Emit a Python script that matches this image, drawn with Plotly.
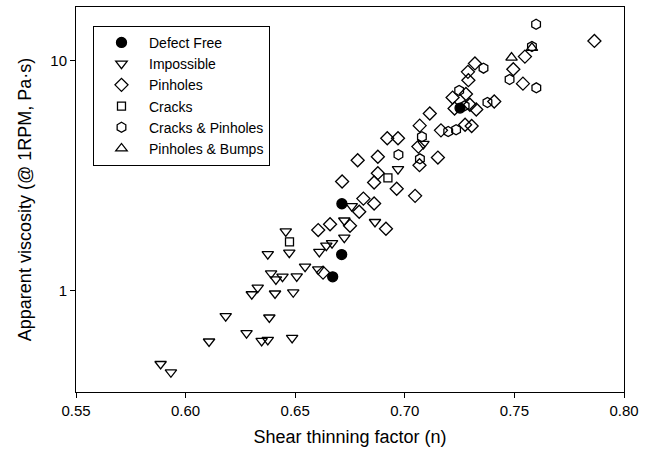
import plotly.graph_objects as go

# ---- data ----
defect_free_n = [0.6671, 0.6712, 0.6713, 0.7252]
defect_free_v = [1.145, 1.431, 2.384, 6.23]

impossible_n = [0.5886, 0.5933, 0.6107, 0.6183, 0.6278, 0.6347, 0.6375, 0.6486,
                0.6382, 0.6302, 0.6329, 0.6408, 0.6491, 0.6390, 0.6412, 0.6442,
                0.6507, 0.6545, 0.6375, 0.6473, 0.6457, 0.6610, 0.6605, 0.6642,
                0.6668, 0.6724, 0.6724, 0.6758, 0.6864, 0.6969, 0.7085]
impossible_v = [0.477, 0.439, 0.598, 0.771, 0.650, 0.602, 0.608, 0.620,
                0.761, 0.961, 1.027, 0.968, 0.980, 1.186, 1.116, 1.147,
                1.150, 1.268, 1.438, 1.458, 1.805, 1.470, 1.234, 1.564,
                1.606, 1.695, 2.015, 2.326, 1.985, 3.375, 4.35]

pinholes_n = [0.7865, 0.7548, 0.7495, 0.7539, 0.7320, 0.7288, 0.7290, 0.7279,
              0.7218, 0.7227, 0.7297, 0.7326, 0.7408, 0.7114, 0.7068, 0.7165,
              0.7275, 0.7305, 0.6920, 0.6969, 0.7062, 0.7151, 0.7067, 0.6785,
              0.6877, 0.6877, 0.6860, 0.6714, 0.6963, 0.7047, 0.6811, 0.6860,
              0.6792, 0.6605, 0.6659, 0.6750, 0.6914, 0.6627]
pinholes_v = [12.22, 10.44, 9.20, 7.96, 9.75, 8.96, 8.24, 7.17,
              6.92, 6.20, 6.44, 6.14, 6.65, 5.90, 5.22, 4.98,
              5.27, 5.20, 4.60, 4.60, 4.23, 3.79, 3.51, 3.69,
              3.82, 3.24, 2.95, 2.98, 2.77, 2.58, 2.51, 2.39,
              2.20, 1.83, 1.94, 1.91, 1.855, 1.194]

cracks_n = [0.6474, 0.6923]
cracks_v = [1.625, 3.09]

cracks_pinholes_n = [0.7599, 0.7580, 0.7359, 0.7478, 0.7600, 0.7248, 0.7273,
                     0.7377, 0.7198, 0.7234, 0.7078, 0.7069, 0.6971]
cracks_pinholes_v = [14.44, 11.56, 9.30, 8.30, 7.63, 7.43, 6.37,
                     6.59, 4.92, 5.01, 4.67, 3.74, 3.90]

pinholes_bumps_n = [0.7487, 0.7580]
pinholes_bumps_v = [10.34, 11.4]

x_ticks = [0.55, 0.60, 0.65, 0.70, 0.75, 0.80]
x_tick_labels = ["0.55", "0.60", "0.65", "0.70", "0.75", "0.80"]
y_ticks = [1, 10]
y_tick_labels = ["1", "10"]

FONT = "Liberation Sans, Arial, sans-serif"

series = [
    ("Defect Free", defect_free_n, defect_free_v, "circle", 10),
    ("Impossible", impossible_n, impossible_v, "triangle-down-open", 10),
    ("Pinholes", pinholes_n, pinholes_v, "diamond-open", 10),
    ("Cracks", cracks_n, cracks_v, "square-open", 8),
    ("Cracks & Pinholes", cracks_pinholes_n, cracks_pinholes_v, "hexagon-open", 10),
    ("Pinholes & Bumps", pinholes_bumps_n, pinholes_bumps_v, "triangle-up-open", 10),
]

fig = go.Figure()
for name, xs, ys, sym, sz in series:
    fig.add_trace(go.Scatter(
        x=xs, y=ys, mode="markers", name=name,
        marker=dict(symbol=sym, size=sz, color="black",
                    line=dict(color="black", width=1.3)),
    ))

fig.update_layout(
    width=653, height=457,
    margin=dict(l=76, r=29, t=7, b=65),
    paper_bgcolor="white", plot_bgcolor="white",
    font=dict(family=FONT, color="black", size=14),
    showlegend=True,
    legend=dict(
        x=0.031, y=0.951, xanchor="left", yanchor="top",
        bordercolor="black", borderwidth=1, bgcolor="white",
        font=dict(family=FONT, size=14, color="black"),
        tracegroupgap=0, itemsizing="trace", itemwidth=45,
    ),
)

fig.update_xaxes(
    range=[0.55, 0.80], tickvals=x_ticks, ticktext=x_tick_labels,
    showgrid=False, zeroline=False,
    showline=True, linecolor="black", linewidth=1, mirror=True,
    ticks="outside", ticklen=5, tickcolor="black", tickwidth=1,
    tickfont=dict(size=15),
    title=dict(text="Shear thinning factor (n)", font=dict(size=18), standoff=12),
)
fig.update_yaxes(
    type="log", range=[-0.4435, 1.235], tickvals=y_ticks, ticktext=y_tick_labels,
    showgrid=False, zeroline=False,
    showline=True, linecolor="black", linewidth=1, mirror=True,
    ticks="outside", ticklen=5, tickcolor="black", tickwidth=1,
    tickfont=dict(size=15),
    title=dict(text="Apparent viscosity (@ 1RPM, Pa·s)", font=dict(size=18), standoff=14),
)

fig.write_html("out.html")
